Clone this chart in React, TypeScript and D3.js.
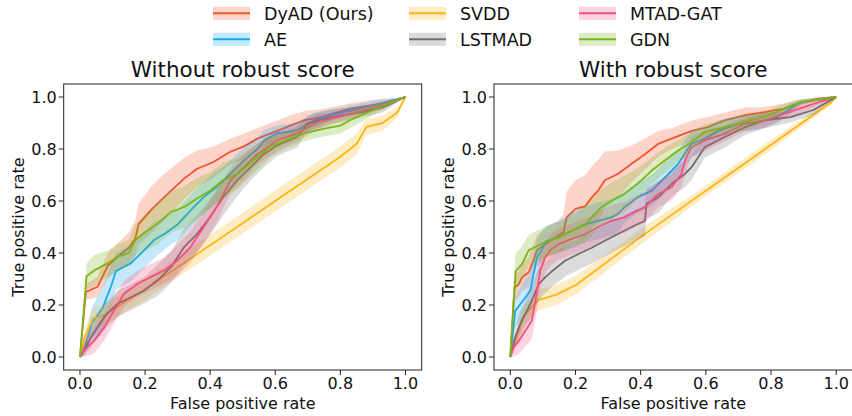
import * as d3 from "d3";
import React from "react";

type Pt = [number, number, number]; // fpr, mean tpr, band half-width

const seriesNames = ["DyAD (Ours)", "AE", "SVDD", "LSTMAD", "MTAD-GAT", "GDN"];
const seriesColors = ["#F2542D", "#16A8F0", "#FDB515", "#6E6E6E", "#F2507D", "#7CB518"];

const tickValues = [0, 0.2, 0.4, 0.6, 0.8, 1.0];
const panelTitles = ["Without robust score", "With robust score"];

// ---- Without robust score ----
const leftDyAD: Pt[] = [[0,0,0],[0.018,0.25,0.03],[0.054,0.27,0.04],[0.085,0.35,0.05],[0.115,0.385,0.05],[0.15,0.42,0.06],[0.17,0.455,0.07],[0.18,0.51,0.08],[0.218,0.565,0.09],[0.259,0.615,0.09],[0.32,0.686,0.08],[0.36,0.724,0.07],[0.41,0.75,0.06],[0.463,0.79,0.05],[0.504,0.81,0.05],[0.545,0.84,0.04],[0.586,0.86,0.04],[0.647,0.89,0.04],[0.688,0.91,0.035],[0.74,0.923,0.03],[0.83,0.955,0.02],[0.893,0.968,0.02],[0.954,0.98,0.015],[1,1,0]];
const leftAE: Pt[] = [[0,0,0],[0.015,0.038,0.03],[0.036,0.13,0.06],[0.07,0.19,0.08],[0.097,0.277,0.08],[0.11,0.33,0.07],[0.156,0.36,0.07],[0.197,0.41,0.07],[0.228,0.45,0.07],[0.26,0.474,0.06],[0.3,0.51,0.06],[0.34,0.564,0.06],[0.38,0.615,0.06],[0.42,0.654,0.06],[0.463,0.705,0.05],[0.504,0.756,0.05],[0.545,0.8,0.04],[0.565,0.833,0.04],[0.606,0.86,0.03],[0.668,0.872,0.03],[0.72,0.91,0.03],[0.77,0.93,0.02],[0.84,0.95,0.02],[0.92,0.974,0.015],[1,1,0]];
const leftSVDD: Pt[] = [[0,0,0],[0.015,0.077,0.03],[0.041,0.15,0.04],[0.072,0.16,0.04],[0.2,0.26,0.04],[0.4,0.43,0.04],[0.6,0.6,0.04],[0.8,0.77,0.04],[0.83,0.8,0.04],[0.85,0.82,0.04],[0.88,0.885,0.03],[0.93,0.9,0.03],[0.975,0.94,0.02],[1,1,0]];
const leftLSTMAD: Pt[] = [[0,0,0],[0.013,0.026,0.02],[0.034,0.077,0.04],[0.075,0.154,0.05],[0.115,0.205,0.05],[0.156,0.23,0.05],[0.197,0.256,0.05],[0.238,0.295,0.06],[0.28,0.346,0.06],[0.32,0.423,0.07],[0.36,0.474,0.07],[0.4,0.538,0.07],[0.44,0.615,0.07],[0.484,0.68,0.06],[0.525,0.73,0.05],[0.565,0.78,0.05],[0.606,0.814,0.04],[0.668,0.846,0.04],[0.698,0.897,0.03],[0.77,0.923,0.03],[0.87,0.942,0.02],[0.93,0.96,0.02],[1,1,0]];
const leftMTAD: Pt[] = [[0,0,0],[0.013,0.026,0.03],[0.044,0.064,0.05],[0.075,0.115,0.05],[0.105,0.18,0.05],[0.136,0.244,0.05],[0.177,0.282,0.05],[0.218,0.308,0.05],[0.259,0.333,0.05],[0.3,0.372,0.06],[0.34,0.423,0.06],[0.38,0.5,0.06],[0.42,0.577,0.06],[0.463,0.68,0.05],[0.504,0.73,0.05],[0.545,0.78,0.04],[0.606,0.833,0.04],[0.668,0.86,0.03],[0.73,0.904,0.03],[0.77,0.917,0.02],[0.85,0.942,0.02],[0.93,0.968,0.015],[1,1,0]];
const leftGDN: Pt[] = [[0,0,0],[0.02,0.31,0.05],[0.044,0.333,0.06],[0.085,0.36,0.05],[0.115,0.385,0.05],[0.15,0.4,0.05],[0.17,0.45,0.06],[0.2,0.48,0.07],[0.238,0.513,0.08],[0.28,0.558,0.08],[0.32,0.577,0.08],[0.36,0.61,0.08],[0.4,0.64,0.07],[0.44,0.68,0.07],[0.484,0.705,0.06],[0.545,0.77,0.05],[0.586,0.81,0.04],[0.647,0.84,0.03],[0.688,0.86,0.03],[0.75,0.878,0.03],[0.8,0.89,0.03],[0.84,0.917,0.03],[0.9,0.95,0.02],[1,1,0]];

// ---- With robust score ----
const rightDyAD: Pt[] = [[0,0,0],[0.013,0.267,0.05],[0.026,0.28,0.05],[0.036,0.306,0.05],[0.056,0.325,0.06],[0.071,0.37,0.06],[0.082,0.41,0.06],[0.107,0.434,0.06],[0.148,0.467,0.06],[0.163,0.48,0.07],[0.173,0.537,0.1],[0.2,0.57,0.11],[0.23,0.58,0.12],[0.25,0.614,0.12],[0.27,0.64,0.12],[0.29,0.68,0.11],[0.33,0.704,0.09],[0.372,0.743,0.07],[0.413,0.78,0.06],[0.454,0.82,0.05],[0.495,0.84,0.04],[0.556,0.87,0.04],[0.607,0.884,0.04],[0.658,0.91,0.03],[0.72,0.93,0.03],[0.78,0.942,0.02],[0.84,0.955,0.02],[0.88,0.974,0.015],[0.944,0.994,0.01],[1,1,0]];
const rightAE: Pt[] = [[0,0,0],[0.015,0.177,0.06],[0.046,0.229,0.07],[0.061,0.255,0.07],[0.082,0.383,0.07],[0.095,0.41,0.07],[0.112,0.447,0.06],[0.148,0.46,0.06],[0.19,0.486,0.07],[0.23,0.51,0.07],[0.27,0.524,0.07],[0.31,0.537,0.07],[0.33,0.55,0.07],[0.35,0.576,0.06],[0.39,0.614,0.06],[0.434,0.64,0.06],[0.474,0.69,0.06],[0.515,0.743,0.05],[0.556,0.82,0.05],[0.597,0.84,0.04],[0.638,0.87,0.04],[0.7,0.897,0.03],[0.76,0.904,0.03],[0.82,0.923,0.02],[0.86,0.955,0.02],[0.89,0.98,0.01],[1,1,0]];
const rightSVDD: Pt[] = [[0,0,0],[0.04,0.156,0.04],[0.087,0.22,0.04],[0.142,0.24,0.04],[0.203,0.278,0.035],[0.4,0.462,0.03],[0.6,0.639,0.02],[0.8,0.816,0.02],[0.985,0.98,0.01],[1,1,0]];
const rightLSTMAD: Pt[] = [[0,0,0],[0.015,0.075,0.04],[0.03,0.126,0.05],[0.046,0.165,0.05],[0.066,0.216,0.06],[0.087,0.28,0.06],[0.107,0.306,0.06],[0.128,0.33,0.06],[0.168,0.37,0.06],[0.209,0.396,0.06],[0.25,0.42,0.06],[0.29,0.447,0.06],[0.33,0.473,0.06],[0.372,0.5,0.06],[0.413,0.524,0.06],[0.418,0.59,0.06],[0.454,0.614,0.06],[0.495,0.666,0.05],[0.536,0.704,0.05],[0.556,0.73,0.05],[0.597,0.807,0.04],[0.658,0.846,0.04],[0.72,0.884,0.03],[0.78,0.91,0.03],[0.86,0.923,0.02],[0.93,0.95,0.02],[0.964,0.974,0.01],[1,1,0]];
const rightMTAD: Pt[] = [[0,0,0],[0.01,0.036,0.04],[0.026,0.062,0.05],[0.046,0.1,0.06],[0.066,0.139,0.07],[0.077,0.216,0.07],[0.092,0.332,0.07],[0.107,0.383,0.06],[0.122,0.41,0.06],[0.148,0.434,0.06],[0.19,0.454,0.06],[0.23,0.473,0.06],[0.27,0.5,0.06],[0.31,0.524,0.06],[0.35,0.537,0.06],[0.39,0.563,0.06],[0.413,0.576,0.06],[0.454,0.627,0.05],[0.495,0.653,0.05],[0.525,0.704,0.05],[0.536,0.756,0.05],[0.556,0.807,0.04],[0.597,0.833,0.04],[0.658,0.859,0.03],[0.72,0.897,0.03],[0.78,0.91,0.03],[0.84,0.936,0.02],[0.9,0.961,0.02],[0.964,0.987,0.01],[1,1,0]];
const rightGDN: Pt[] = [[0,0,0],[0.01,0.216,0.08],[0.017,0.33,0.07],[0.036,0.357,0.07],[0.056,0.41,0.06],[0.071,0.42,0.06],[0.117,0.447,0.06],[0.148,0.46,0.06],[0.19,0.486,0.06],[0.23,0.51,0.07],[0.25,0.537,0.07],[0.28,0.576,0.07],[0.31,0.6,0.07],[0.35,0.627,0.07],[0.39,0.666,0.06],[0.434,0.717,0.05],[0.474,0.756,0.05],[0.515,0.794,0.04],[0.556,0.826,0.04],[0.597,0.865,0.03],[0.658,0.884,0.03],[0.72,0.904,0.03],[0.78,0.923,0.02],[0.83,0.95,0.02],[0.89,0.98,0.01],[1,1,0]];

const leftSeries = [leftDyAD, leftAE, leftSVDD, leftLSTMAD, leftMTAD, leftGDN];
const rightSeries = [rightDyAD, rightAE, rightSVDD, rightLSTMAD, rightMTAD, rightGDN];

const FONT = "DejaVu Sans, sans-serif";
const W = 852;
const H = 416;

function Panel({ x0, x1, title, series }: { x0: number; x1: number; title: string; series: Pt[][] }) {
  const top = 84;
  const bottom = 370;
  const x = d3.scaleLinear().domain([-0.05, 1.05]).range([x0, x1]);
  const y = d3.scaleLinear().domain([-0.05, 1.05]).range([bottom, top]);

  const area = d3
    .area<Pt>()
    .x((d) => x(d[0]))
    .y0((d) => y(Math.max(0, d[1] - d[2])))
    .y1((d) => y(Math.min(1, d[1] + d[2])));
  const line = d3
    .line<Pt>()
    .x((d) => x(d[0]))
    .y((d) => y(d[1]));

  const cx = (x0 + x1) / 2;
  const clipId = `clip-${Math.round(x0)}`;

  return (
    <g>
      <defs>
        <clipPath id={clipId}>
          <rect x={x0} y={top} width={x1 - x0} height={bottom - top} />
        </clipPath>
      </defs>
      <g clipPath={`url(#${clipId})`}>
        {series.map((s, i) => (
          <g key={i}>
            <path d={area(s) ?? ""} fill={seriesColors[i]} fillOpacity={0.25} stroke="none" />
            <path d={line(s) ?? ""} fill="none" stroke={seriesColors[i]} strokeWidth={1.8} strokeLinejoin="round" />
          </g>
        ))}
      </g>
      <rect x={x0} y={top} width={x1 - x0} height={bottom - top} fill="none" stroke="#222" strokeWidth={1} />
      {tickValues.map((t) => (
        <g key={`x${t}`}>
          <line x1={x(t)} x2={x(t)} y1={bottom} y2={bottom + 5} stroke="#222" strokeWidth={1} />
          <text x={x(t)} y={bottom + 19} textAnchor="middle" fontSize={16} fontFamily={FONT} fill="#111">
            {t.toFixed(1)}
          </text>
        </g>
      ))}
      {tickValues.map((t) => (
        <g key={`y${t}`}>
          <line x1={x0 - 5} x2={x0} y1={y(t)} y2={y(t)} stroke="#222" strokeWidth={1} />
          <text x={x0 - 7} y={y(t) + 5.8} textAnchor="end" fontSize={16} fontFamily={FONT} fill="#111">
            {t.toFixed(1)}
          </text>
        </g>
      ))}
      <text x={cx} y={77} textAnchor="middle" fontSize={21.5} fontFamily={FONT} fill="#111">
        {title}
      </text>
      <text x={cx} y={409} textAnchor="middle" fontSize={16} fontFamily={FONT} fill="#111">
        False positive rate
      </text>
      <text
        transform={`translate(${x0 - 40},${(top + bottom) / 2}) rotate(-90)`}
        textAnchor="middle"
        fontSize={16}
        fontFamily={FONT}
        fill="#111"
      >
        True positive rate
      </text>
    </g>
  );
}

function Legend() {
  const colX = [213, 409, 579];
  const rowY = [13.3, 39.3];
  return (
    <g>
      {seriesNames.map((name, i) => {
        const col = Math.floor(i / 2);
        const row = i % 2;
        const hx = colX[col];
        const cy = rowY[row];
        return (
          <g key={name}>
            <rect x={hx} y={cy - 6.5} width={37} height={13} fill={seriesColors[i]} fillOpacity={0.25} />
            <line x1={hx} x2={hx + 37} y1={cy} y2={cy} stroke={seriesColors[i]} strokeWidth={2} />
            <text x={hx + 51} y={cy + 6.3} fontSize={17.5} fontFamily={FONT} fill="#111">
              {name}
            </text>
          </g>
        );
      })}
    </g>
  );
}

export default function App() {
  return (
    <svg
      width={W}
      height={H}
      viewBox={`0 0 ${W} ${H}`}
      style={{ position: "absolute", left: 0, top: 0, background: "#fff" }}
    >
      <rect width={W} height={H} fill="#fff" />
      <Legend />
      <Panel x0={63.7} x1={421.7} title={panelTitles[0]} series={leftSeries} />
      <Panel x0={494} x1={852.5} title={panelTitles[1]} series={rightSeries} />
    </svg>
  );
}
